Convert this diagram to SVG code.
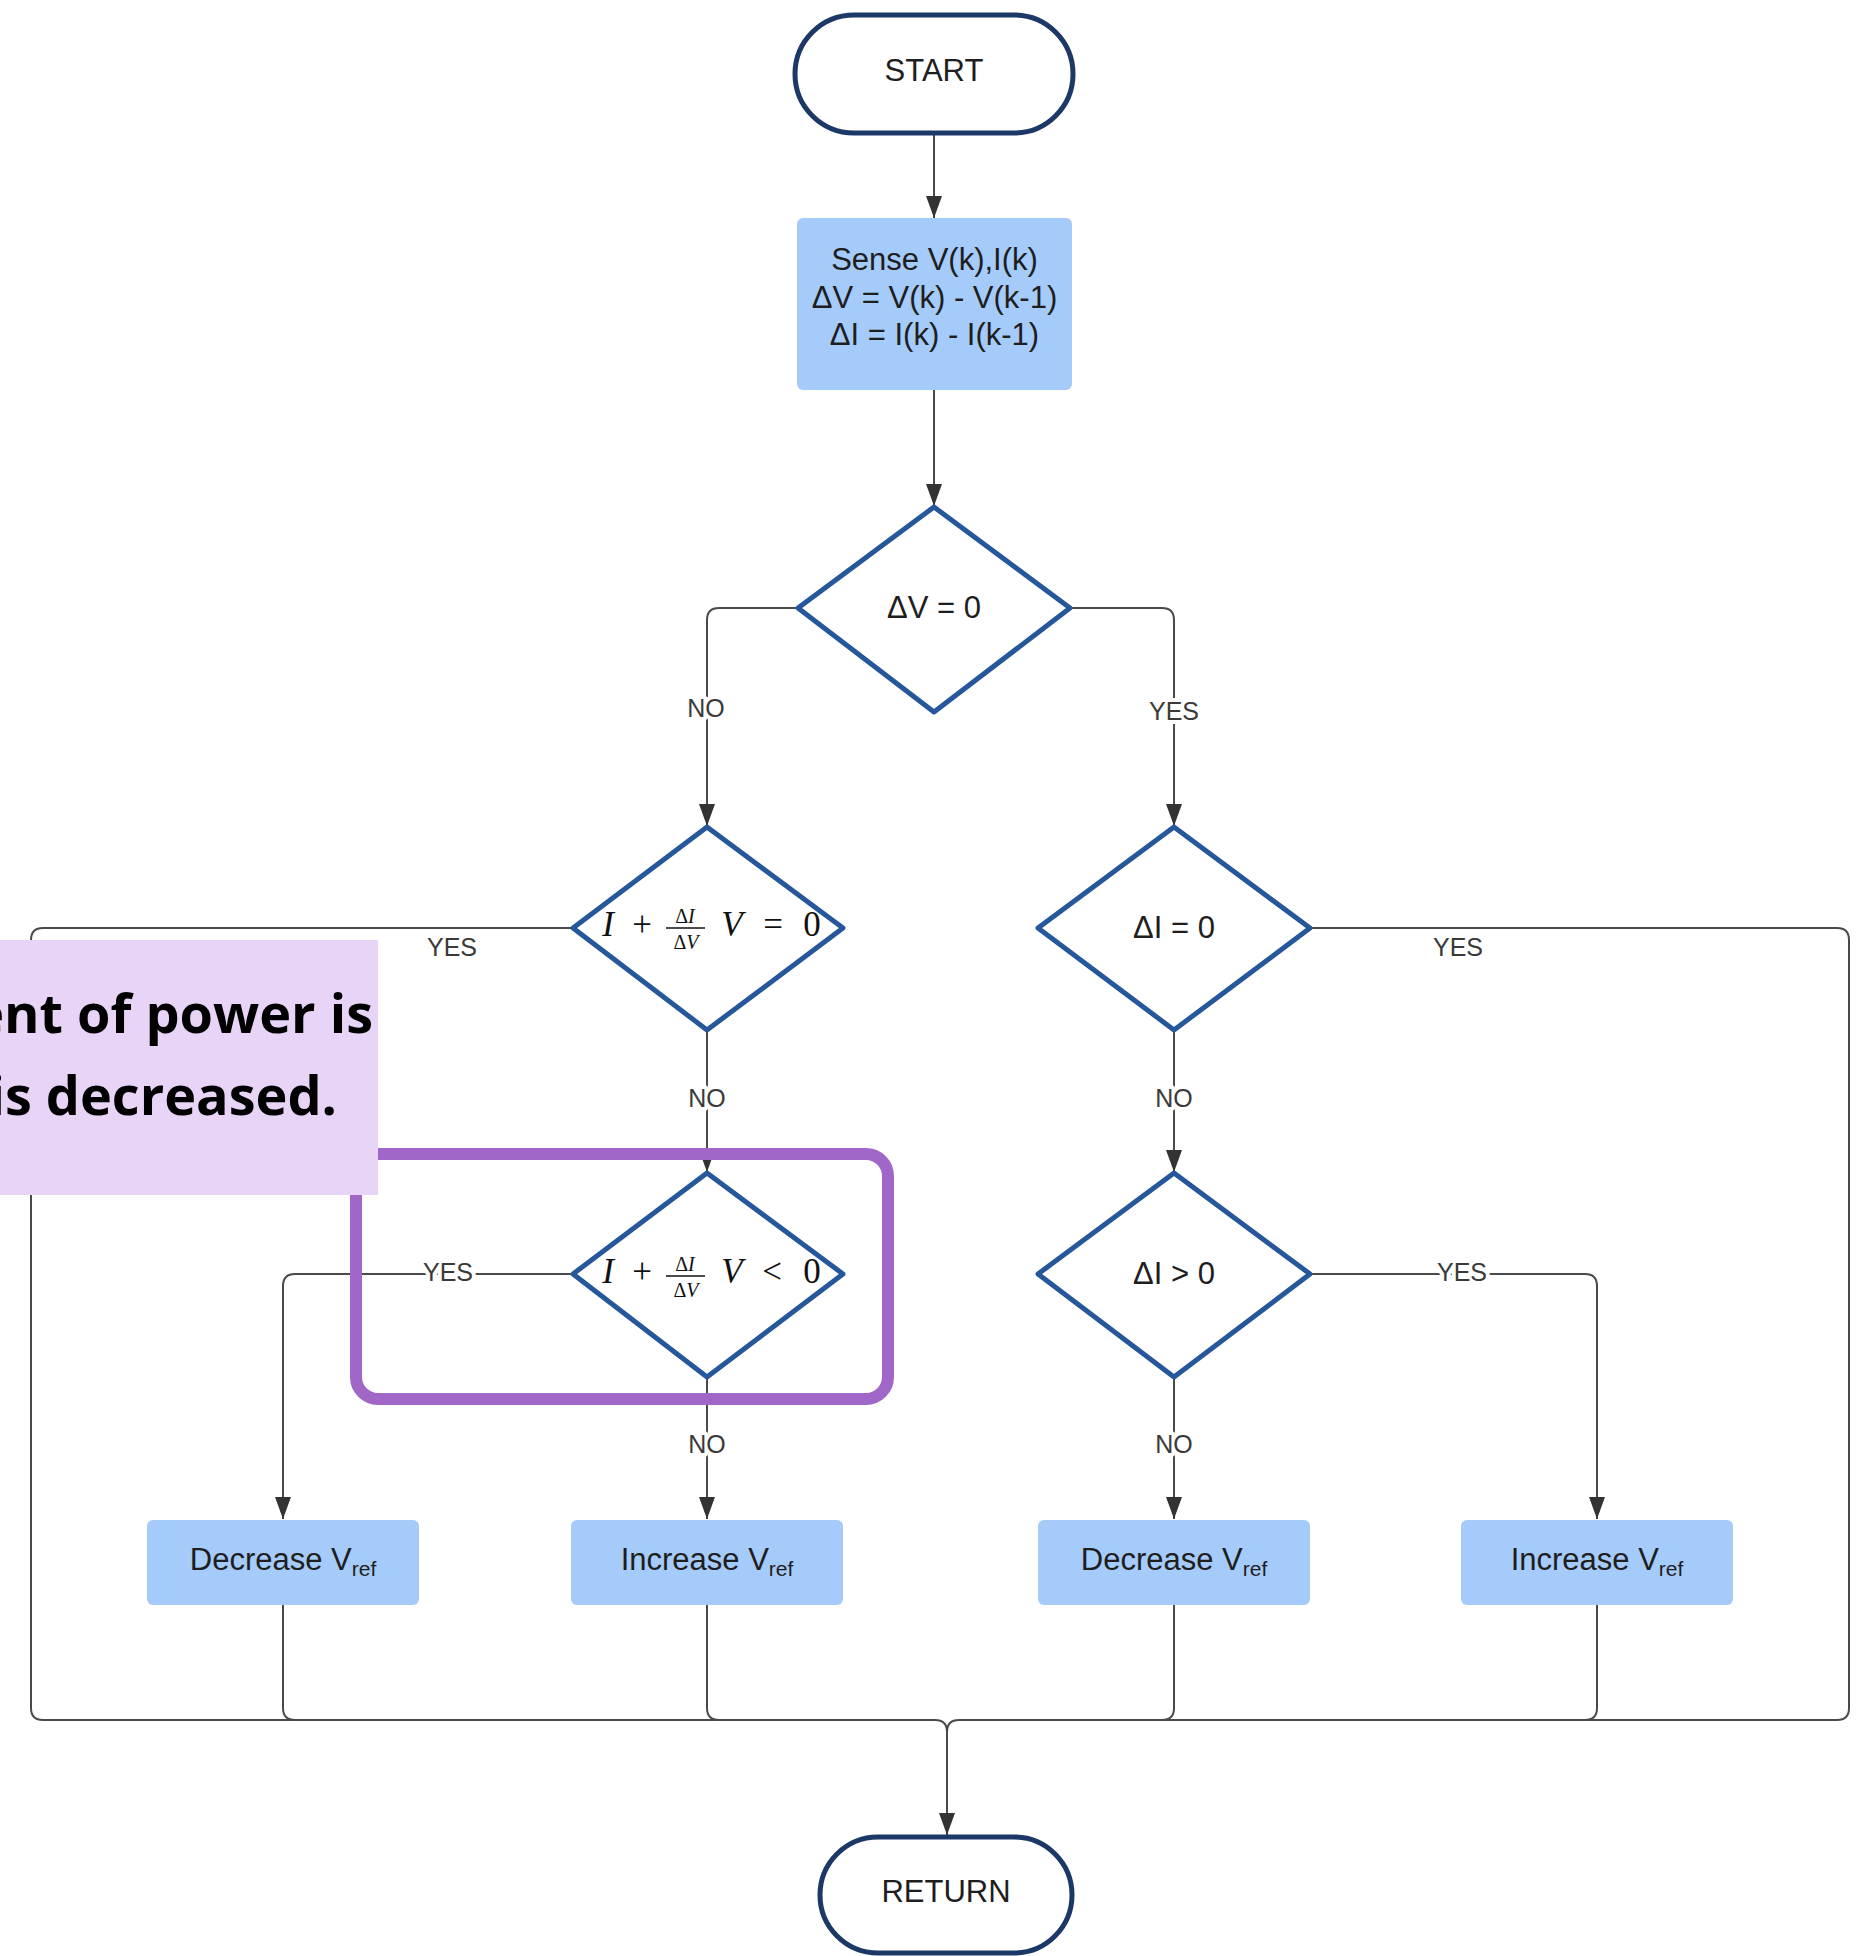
<svg xmlns="http://www.w3.org/2000/svg" width="1863" height="1956" viewBox="0 0 1863 1956">
<style>
.term{fill:#fff;stroke:#1c3866;stroke-width:5}
.proc{fill:#a5cbfa;stroke:none}
.dec{fill:#fff;stroke:#27579b;stroke-width:5;stroke-linejoin:round}
.t{font-family:"Liberation Sans",Arial,sans-serif;font-size:31px;fill:#1e1e1e;text-anchor:middle}
.lbl{font-family:"Liberation Sans",Arial,sans-serif;font-size:25px;fill:#3a3a3a;text-anchor:middle;stroke:#fff;stroke-width:8;paint-order:stroke;stroke-linejoin:round}
.lbl2{font-family:"Liberation Sans",Arial,sans-serif;font-size:25px;fill:#3a3a3a;text-anchor:middle}
.m{font-family:"Liberation Serif","Times New Roman",serif;fill:#111;text-anchor:middle}
.big{font-size:35px}
.sm{font-size:20px}
.it{font-style:italic}
.conn path{fill:none;stroke:#4a4a4a;stroke-width:2}
.note{font-family:"Open Sans","Noto Sans",sans-serif;font-weight:700;font-size:54px;fill:#000;text-anchor:end}
</style>
<defs>
<marker id="arr" markerUnits="userSpaceOnUse" markerWidth="22" markerHeight="16" refX="22" refY="8" orient="auto">
<path d="M0,0 L22,8 L0,16 z" fill="#333"/>
</marker>
</defs>
<rect width="1863" height="1956" fill="#fff"/>

<g id="connectors" class="conn">
<path d="M934,133 V218" marker-end="url(#arr)"/>
<path d="M934,390 V506" marker-end="url(#arr)"/>
<path d="M798,608 H719 Q707,608 707,620 V826" marker-end="url(#arr)"/>
<path d="M1070,608 H1162 Q1174,608 1174,620 V826" marker-end="url(#arr)"/>
<path d="M573,928 H43 Q31,928 31,940 V1708 Q31,1720 43,1720 H935 Q947,1720 947,1732"/>
<path d="M707,1030 V1172" marker-end="url(#arr)"/>
<path d="M1310,928 H1837 Q1849,928 1849,940 V1708 Q1849,1720 1837,1720 H959 Q947,1720 947,1732"/>
<path d="M1174,1030 V1172" marker-end="url(#arr)"/>
<path d="M573,1274 H295 Q283,1274 283,1286 V1519" marker-end="url(#arr)"/>
<path d="M707,1377 V1519" marker-end="url(#arr)"/>
<path d="M1174,1377 V1519" marker-end="url(#arr)"/>
<path d="M1310,1274 H1585 Q1597,1274 1597,1286 V1519" marker-end="url(#arr)"/>
<path d="M283,1605 V1708 Q283,1720 295,1720 H935"/>
<path d="M707,1605 V1708 Q707,1720 719,1720 H935"/>
<path d="M1174,1605 V1708 Q1174,1720 1162,1720 H959"/>
<path d="M1597,1605 V1708 Q1597,1720 1585,1720 H959"/>
<path d="M947,1732 V1835" marker-end="url(#arr)"/>
<text class="lbl" x="706" y="717">NO</text>
<text class="lbl" x="1174" y="720">YES</text>
<text class="lbl2" x="452" y="956">YES</text>
<text class="lbl2" x="1458" y="956">YES</text>
<text class="lbl" x="707" y="1107">NO</text>
<text class="lbl" x="1174" y="1107">NO</text>
<text class="lbl" x="448" y="1281">YES</text>
<text class="lbl" x="1462" y="1281">YES</text>
<text class="lbl" x="707" y="1453">NO</text>
<text class="lbl" x="1174" y="1453">NO</text>
</g>

<g id="start">
<rect class="term" x="795" y="15" width="278" height="118" rx="59"/>
<text class="t" x="934" y="81">START</text>
</g>

<g id="sense">
<rect class="proc" x="797" y="218" width="275" height="172" rx="6"/>
<text class="t" x="934.5" y="270">Sense V(k),I(k)</text>
<text class="t" x="934.5" y="308">ΔV = V(k) - V(k-1)</text>
<text class="t" x="934.5" y="345">ΔI = I(k) - I(k-1)</text>
</g>

<g id="dv0">
<polygon class="dec" points="934,507 1070,608 934,712 798,608"/>
<text class="t" x="934" y="618">ΔV = 0</text>
</g>

<g id="cond-eq">
<polygon class="dec" points="707,827 843,928 707,1030 573,928"/>
<text class="m big it" x="608" y="936">I</text>
<text class="m big" x="642" y="936">+</text>
<text class="m sm" x="685" y="923">Δ<tspan class="it">I</tspan></text>
<line x1="666" y1="928" x2="705" y2="928" stroke="#111" stroke-width="1.4"/>
<text class="m sm" x="686" y="949">Δ<tspan class="it">V</tspan></text>
<text class="m big it" x="732" y="936">V</text>
<text class="m big" x="773" y="936">=</text>
<text class="m big" x="812" y="936">0</text>
</g>

<g id="di0">
<polygon class="dec" points="1174,827 1310,928 1174,1030 1038,928"/>
<text class="t" x="1174" y="938">ΔI = 0</text>
</g>

<g id="cond-lt">
<polygon class="dec" points="707,1173 843,1274 707,1377 573,1274"/>
<text class="m big it" x="608" y="1283">I</text>
<text class="m big" x="642" y="1283">+</text>
<text class="m sm" x="685" y="1271">Δ<tspan class="it">I</tspan></text>
<line x1="666" y1="1276" x2="705" y2="1276" stroke="#111" stroke-width="1.4"/>
<text class="m sm" x="686" y="1297">Δ<tspan class="it">V</tspan></text>
<text class="m big it" x="732" y="1283">V</text>
<text class="m big" x="772" y="1283">&lt;</text>
<text class="m big" x="812" y="1283">0</text>
</g>

<g id="dipos">
<polygon class="dec" points="1174,1173 1310,1274 1174,1377 1038,1274"/>
<text class="t" x="1174" y="1284">ΔI &gt; 0</text>
</g>

<g id="dec1">
<rect class="proc" x="147" y="1520" width="272" height="85" rx="6"/>
<text class="t" x="283" y="1570">Decrease V<tspan font-size="21" dy="6">ref</tspan></text>
</g>
<g id="inc1">
<rect class="proc" x="571" y="1520" width="272" height="85" rx="6"/>
<text class="t" x="707" y="1570">Increase V<tspan font-size="21" dy="6">ref</tspan></text>
</g>
<g id="dec2">
<rect class="proc" x="1038" y="1520" width="272" height="85" rx="6"/>
<text class="t" x="1174" y="1570">Decrease V<tspan font-size="21" dy="6">ref</tspan></text>
</g>
<g id="inc2">
<rect class="proc" x="1461" y="1520" width="272" height="85" rx="6"/>
<text class="t" x="1597" y="1570">Increase V<tspan font-size="21" dy="6">ref</tspan></text>
</g>

<g id="return">
<rect class="term" x="820" y="1837" width="252" height="116" rx="58"/>
<text class="t" x="946" y="1902">RETURN</text>
</g>

<g id="highlight">
<rect x="356" y="1154" width="532" height="245" rx="22" fill="none" stroke="#a067c9" stroke-width="12"/>
</g>

<g id="note">
<rect x="0" y="940" width="378" height="255" fill="#e8d4f6"/>
<text class="note" x="373" y="1033">ent of power is</text>
<text class="note" x="337" y="1115">is decreased.</text>
</g>
</svg>
